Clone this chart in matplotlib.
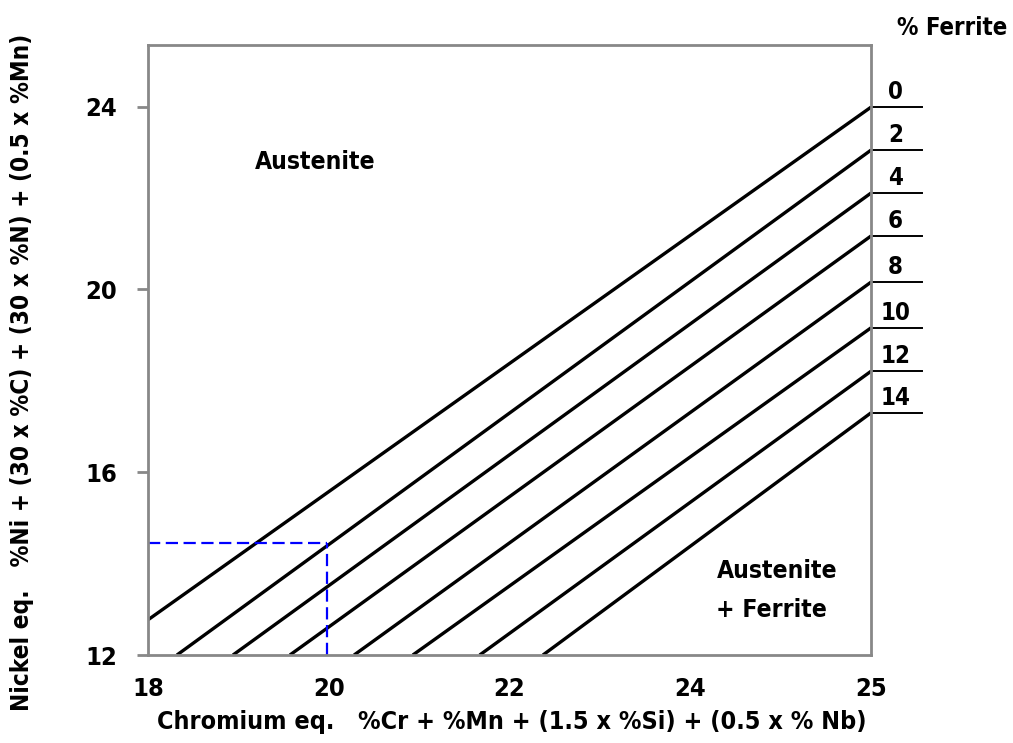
import matplotlib
matplotlib.use("Agg")
import matplotlib.pyplot as plt
from matplotlib import font_manager as fm

# iso-ferrite lines
ferrite_pct = [0, 2, 4, 6, 8, 10, 12, 14]
start_x = [18.0, 18.32, 18.94, 19.57, 20.28, 20.93, 21.67, 22.37]
start_y = [12.77, 12.0, 12.0, 12.0, 12.0, 12.0, 12.0, 12.0]
end_x = [26.0] * 8
end_y = [23.99, 23.05, 22.11, 21.17, 20.16, 19.16, 18.21, 17.30]

# worked example (blue dashed guide)
example_cr = 19.98
example_ni = 14.45

xtick_pos = [18, 20, 22, 24, 26]
xtick_labels = ["18", "20", "22", "24", "25"]
ytick_pos = [12, 16, 20, 24]

# the original uses a heavy condensed face; use DejaVu condensed if present
have_cond = any(f.name == "DejaVu Sans" and str(f.stretch) == "condensed"
                and str(f.weight) in ("bold", "700")
                for f in fm.fontManager.ttflist)
stretch = "condensed" if have_cond else "normal"
k = 1.11 if have_cond else 1.0

plt.rcParams["font.family"] = ["DejaVu Sans"]
plt.rcParams["font.weight"] = "bold"
plt.rcParams["font.stretch"] = stretch

fig = plt.figure(figsize=(10.13, 7.43), dpi=100)
ax = fig.add_axes([0.1461, 0.1184, 0.7137, 0.821])

for x0, y0, x1, y1 in zip(start_x, start_y, end_x, end_y):
    ax.plot([x0, x1], [y0, y1], color="black", lw=2.4, solid_capstyle="butt")

ax.plot([18, example_cr], [example_ni, example_ni], color="#0000ff",
        lw=1.6, dashes=(5.5, 2.5))
ax.plot([example_cr, example_cr], [12, example_ni], color="#0000ff",
        lw=1.6, dashes=(5.5, 2.5))

# ferrite number labels with short underline outside the box
for pct, y in zip(ferrite_pct, end_y):
    ax.plot([26.0, 26.57], [y, y], color="black", lw=1.4, clip_on=False)
    ax.annotate(str(pct), xy=(26.27, y), xytext=(0, 2),
                textcoords="offset points", ha="center", va="bottom",
                fontsize=15.5 * k, fontweight="bold", annotation_clip=False)

ax.text(19.85, 22.79, "Austenite", ha="center", va="center",
        fontsize=16 * k, fontweight="bold")
ax.text(24.29, 13.84, "Austenite", ha="left", va="center",
        fontsize=16 * k, fontweight="bold")
ax.text(24.29, 12.98, "+ Ferrite", ha="left", va="center",
        fontsize=16 * k, fontweight="bold")

ax.set_xlim(18, 26)
ax.set_ylim(12, 25.35)
ax.set_xticks(xtick_pos)
ax.set_xticklabels(xtick_labels)
ax.set_yticks(ytick_pos)

for s in ax.spines.values():
    s.set_color("#888888")
    s.set_linewidth(2)

ax.tick_params(axis="x", length=0, pad=16, labelsize=16.5 * k)
ax.tick_params(axis="y", length=8, width=2, color="#888888", pad=14,
               labelsize=16.5 * k)
for lbl in ax.get_xticklabels() + ax.get_yticklabels():
    lbl.set_fontweight("bold")

fig.text(0.94, 0.962, "% Ferrite", ha="center", va="center",
         fontsize=15.5 * k, fontweight="bold")
fig.text(0.505, 0.028,
         "Chromium eq.   %Cr + %Mn + (1.5 x %Si) + (0.5 x % Nb)",
         ha="center", va="center", fontsize=16.2 * k, fontweight="bold")
fig.text(0.022, 0.499,
         "Nickel eq.   %Ni + (30 x %C) + (30 x %N) + (0.5 x %Mn)",
         ha="center", va="center", rotation=90, fontsize=15.7 * k,
         fontweight="bold")

fig.savefig("out.png", dpi=100)
